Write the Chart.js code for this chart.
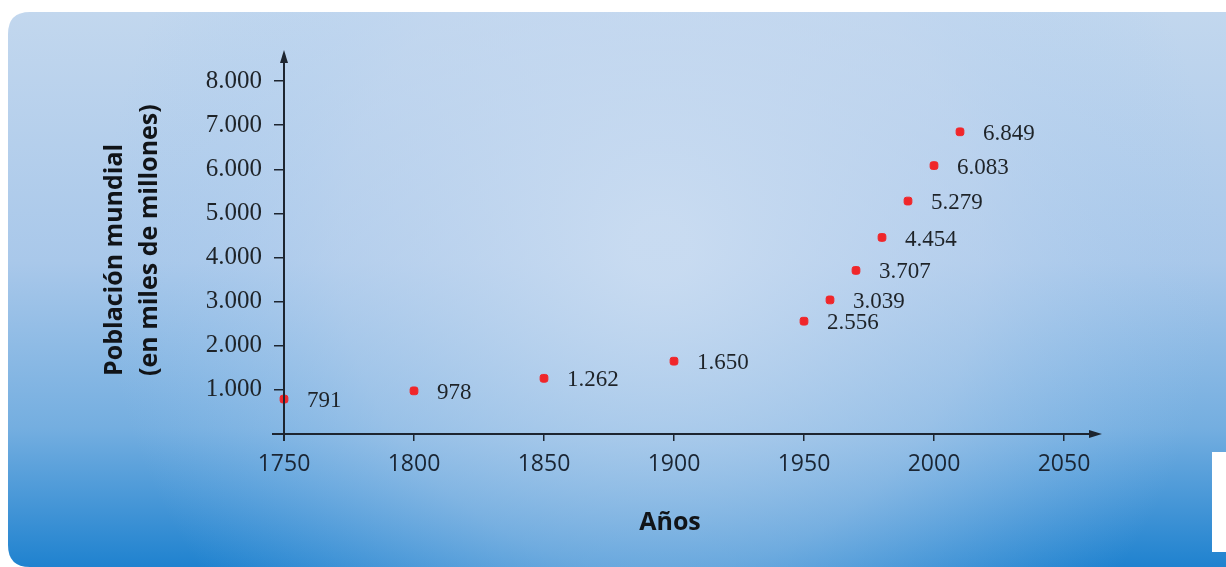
<!DOCTYPE html>
<html>
<head>
<meta charset="utf-8">
<script src="https://cdn.jsdelivr.net/npm/chart.js@4.4.1/dist/chart.umd.min.js"></script>
<style>
  html, body { margin: 0; padding: 0; background: #ffffff; }
  #wrap { width: 1226px; height: 567px; position: relative; }
</style>
</head>
<body>
<div id="wrap"><canvas id="chart" width="1226" height="567"></canvas></div>
<script>
// Datos: población mundial (en millones)
const years = [1750, 1800, 1850, 1900, 1950, 1960, 1970, 1980, 1990, 2000, 2010];
const population = [791, 978, 1262, 1650, 2556, 3039, 3707, 4454, 5279, 6083, 6849];
const yTitleLines = ['Población mundial', '(en miles de millones)'];
const xTitle = 'Años';

// separador de miles con punto (8000 -> 8.000)
function fmtMiles(v) {
    return String(v).replace(/\B(?=(\d{3})+(?!\d))/g, '.');
}

// fondo azul degradado con esquinas redondeadas
const backgroundPlugin = {
    id: 'fondo',
    beforeDraw(chart) {
        const { ctx, width, height } = chart;
        ctx.save();
        ctx.fillStyle = '#ffffff';
        ctx.fillRect(0, 0, width, height);

        const x0 = 8, y0 = 12, r = 22;
        ctx.beginPath();
        ctx.moveTo(x0 + r, y0);
        ctx.lineTo(width, y0);
        ctx.lineTo(width, height);
        ctx.lineTo(x0 + r, height);
        ctx.quadraticCurveTo(x0, height, x0, height - r);
        ctx.lineTo(x0, y0 + r);
        ctx.quadraticCurveTo(x0, y0, x0 + r, y0);
        ctx.closePath();

        const lin = ctx.createLinearGradient(0, y0, 0, height);
        lin.addColorStop(0, '#c2d7ee');
        lin.addColorStop(0.45, '#a9c8ea');
        lin.addColorStop(0.75, '#74aee0');
        lin.addColorStop(1, '#1f82cf');
        ctx.fillStyle = lin;
        ctx.fill();

        // zona clara central
        ctx.clip();
        const rad = ctx.createRadialGradient(660, 250, 30, 660, 250, 560);
        rad.addColorStop(0, 'rgba(205, 222, 242, 0.85)');
        rad.addColorStop(0.55, 'rgba(195, 215, 240, 0.45)');
        rad.addColorStop(1, 'rgba(160, 200, 240, 0)');
        ctx.fillStyle = rad;
        ctx.fillRect(0, 0, width, height);
        ctx.restore();

        // recorte blanco a la derecha
        ctx.save();
        ctx.fillStyle = '#ffffff';
        ctx.fillRect(1212, 452, 14, 100);
        ctx.restore();
    }
};

// ejes con flechas, títulos y etiquetas de los puntos
const axesPlugin = {
    id: 'ejes',
    afterDraw(chart) {
        const { ctx, chartArea, scales } = chart;
        const xs = scales.x, ys = scales.y;
        const ox = xs.getPixelForValue(1750);
        const oy = ys.getPixelForValue(0);
        ctx.save();
        ctx.strokeStyle = '#1d2530';
        ctx.fillStyle = '#1d2530';
        ctx.lineWidth = 2;

        // eje x
        ctx.beginPath();
        ctx.moveTo(ox - 12, oy);
        ctx.lineTo(chartArea.right + 28, oy);
        ctx.stroke();
        ctx.beginPath();
        ctx.moveTo(chartArea.right + 38, oy);
        ctx.lineTo(chartArea.right + 25, oy - 4);
        ctx.lineTo(chartArea.right + 25, oy + 4);
        ctx.closePath();
        ctx.fill();

        // eje y
        ctx.beginPath();
        ctx.moveTo(ox, oy + 7);
        ctx.lineTo(ox, chartArea.top - 20);
        ctx.stroke();
        ctx.beginPath();
        ctx.moveTo(ox, chartArea.top - 31);
        ctx.lineTo(ox - 4, chartArea.top - 18);
        ctx.lineTo(ox + 4, chartArea.top - 18);
        ctx.closePath();
        ctx.fill();

        // títulos
        ctx.fillStyle = '#111418';
        ctx.font = 'bold 25px "Open Sans", sans-serif';
        ctx.textAlign = 'center';
        ctx.textBaseline = 'middle';
        ctx.fillText(xTitle, 670, 523);

        ctx.save();
        ctx.translate(115, 376);
        ctx.rotate(-Math.PI / 2);
        ctx.textAlign = 'left';
        ctx.fillText(yTitleLines[0], 0, 0);
        ctx.fillText(yTitleLines[1], 0, 35);
        ctx.restore();

        // etiquetas de valores
        const meta = chart.getDatasetMeta(0);
        ctx.font = '23px "Liberation Serif", serif';
        ctx.textAlign = 'left';
        ctx.fillStyle = '#1e2328';
        meta.data.forEach((pt, i) => {
            ctx.fillText(fmtMiles(population[i]), pt.x + 23, pt.y + 2);
        });
        ctx.restore();
    }
};

new Chart(document.getElementById('chart'), {
    type: 'scatter',
    data: {
        datasets: [{
            data: years.map((y, i) => ({ x: y, y: population[i] })),
            backgroundColor: '#f0262a',
            borderColor: '#f0262a',
            pointRadius: 4.5,
            pointStyle: 'rectRounded',
            pointHoverRadius: 4.5,
            clip: false
        }]
    },
    plugins: [backgroundPlugin, axesPlugin],
    options: {
        responsive: false,
        animation: false,
        layout: { padding: { top: 81, right: 162, left: 0, bottom: 0 } },
        plugins: {
            legend: { display: false },
            tooltip: { enabled: false }
        },
        scales: {
            x: {
                type: 'linear',
                min: 1750,
                max: 2050,
                afterFit(scale) { scale.height = 133; },
                border: { display: false },
                grid: {
                    drawOnChartArea: false,
                    drawTicks: true,
                    tickLength: 7,
                    color: '#1d2530',
                    lineWidth: 1.5
                },
                ticks: {
                    stepSize: 50,
                    padding: 10,
                    color: '#1a2533',
                    font: { family: '"Open Sans", sans-serif', size: 23 },
                    callback: v => String(v)
                }
            },
            y: {
                min: 0,
                max: 8000,
                afterFit(scale) { scale.width = 284; },
                border: { display: false },
                grid: {
                    drawOnChartArea: false,
                    drawTicks: true,
                    tickLength: 10,
                    color: (c) => c.tick && c.tick.value === 0 ? 'rgba(0,0,0,0)' : '#1d2530',
                    lineWidth: 1.5
                },
                ticks: {
                    stepSize: 1000,
                    padding: 12,
                    color: '#1e2328',
                    font: { family: '"Liberation Serif", serif', size: 25 },
                    callback: v => v === 0 ? '' : fmtMiles(v)
                }
            }
        }
    }
});
</script>
</body>
</html>
